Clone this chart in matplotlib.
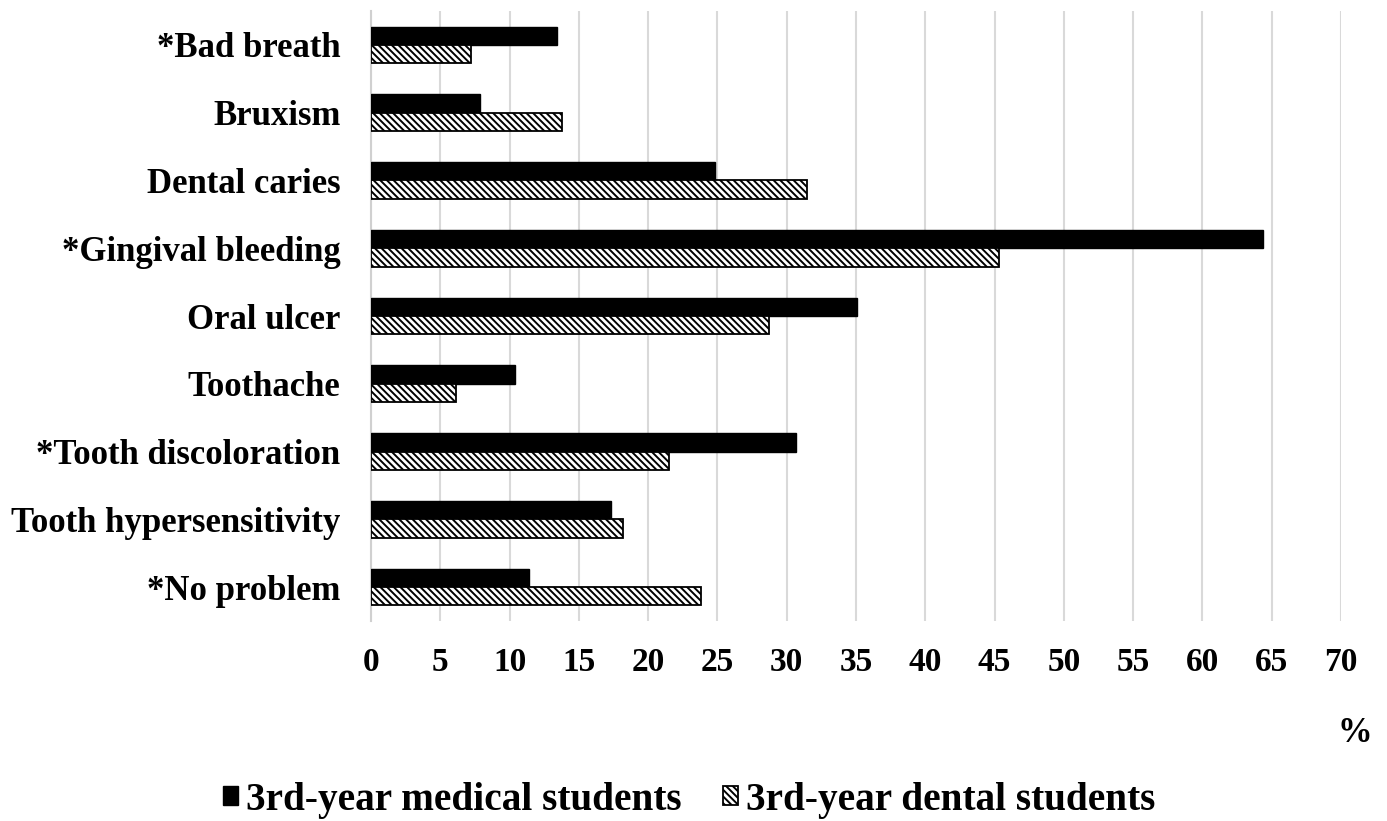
import matplotlib
matplotlib.use("Agg")
import matplotlib.pyplot as plt
import numpy as np

categories = ['*Bad breath', 'Bruxism', 'Dental caries', '*Gingival bleeding', 'Oral ulcer',
              'Toothache', '*Tooth discoloration', 'Tooth hypersensitivity', '*No problem']
medical = [13.4, 7.9, 24.8, 64.4, 35.1, 10.4, 30.7, 17.3, 11.4]
dental = [7.2, 13.8, 31.5, 45.3, 28.7, 6.1, 21.5, 18.2, 23.8]
x_ticks = list(range(0, 75, 5))

plt.rcParams['font.family'] = ['Liberation Serif', 'DejaVu Serif']
plt.rcParams['font.weight'] = 'bold'
plt.rcParams['hatch.linewidth'] = 1.4

fig = plt.figure(figsize=(13.87, 8.21), dpi=100)
ax = fig.add_axes([371 / 1387, 1 - 621 / 821, (1341 - 371) / 1387, (621 - 11) / 821])

y = np.arange(len(categories))
h = 0.27
ax.barh(y - h / 2, medical, height=h, color='black', edgecolor='black', linewidth=1,
        label='3rd-year medical students', zorder=3)
ax.barh(y + h / 2, dental, height=h, color='white', edgecolor='black', linewidth=1.3,
        hatch='\\\\\\\\\\', label='3rd-year dental students', zorder=3)

ax.set_xlim(0, 70)
ax.set_ylim(len(categories) - 0.5, -0.5)
ax.set_xticks(x_ticks)
ax.set_yticks(y)
ax.set_yticklabels(categories, fontsize=25, fontweight='bold')
ax.tick_params(axis='x', labelsize=24, length=0, pad=19)
ax.tick_params(axis='y', length=0, pad=22)
for lab in ax.get_xticklabels():
    lab.set_fontweight('bold')

ax.grid(axis='x', color='#d9d9d9', linewidth=1.5, zorder=0)
for s in ['top', 'right', 'bottom']:
    ax.spines[s].set_visible(False)
ax.spines['left'].set_color('#d0d0d0')
ax.spines['left'].set_linewidth(1.5)

fig.text(1355 / 1387, 1 - 733 / 821, '%', fontsize=25, fontweight='bold', ha='center', va='center')

fig.legend(loc='center', bbox_to_anchor=(689 / 1387, 1 - 800 / 821), ncol=2, frameon=False,
           prop={'size': 28.3, 'weight': 'bold'}, handlelength=0.38, handleheight=0.38,
           handletextpad=0.2, columnspacing=1.05)

fig.savefig('out.png', dpi=100)
